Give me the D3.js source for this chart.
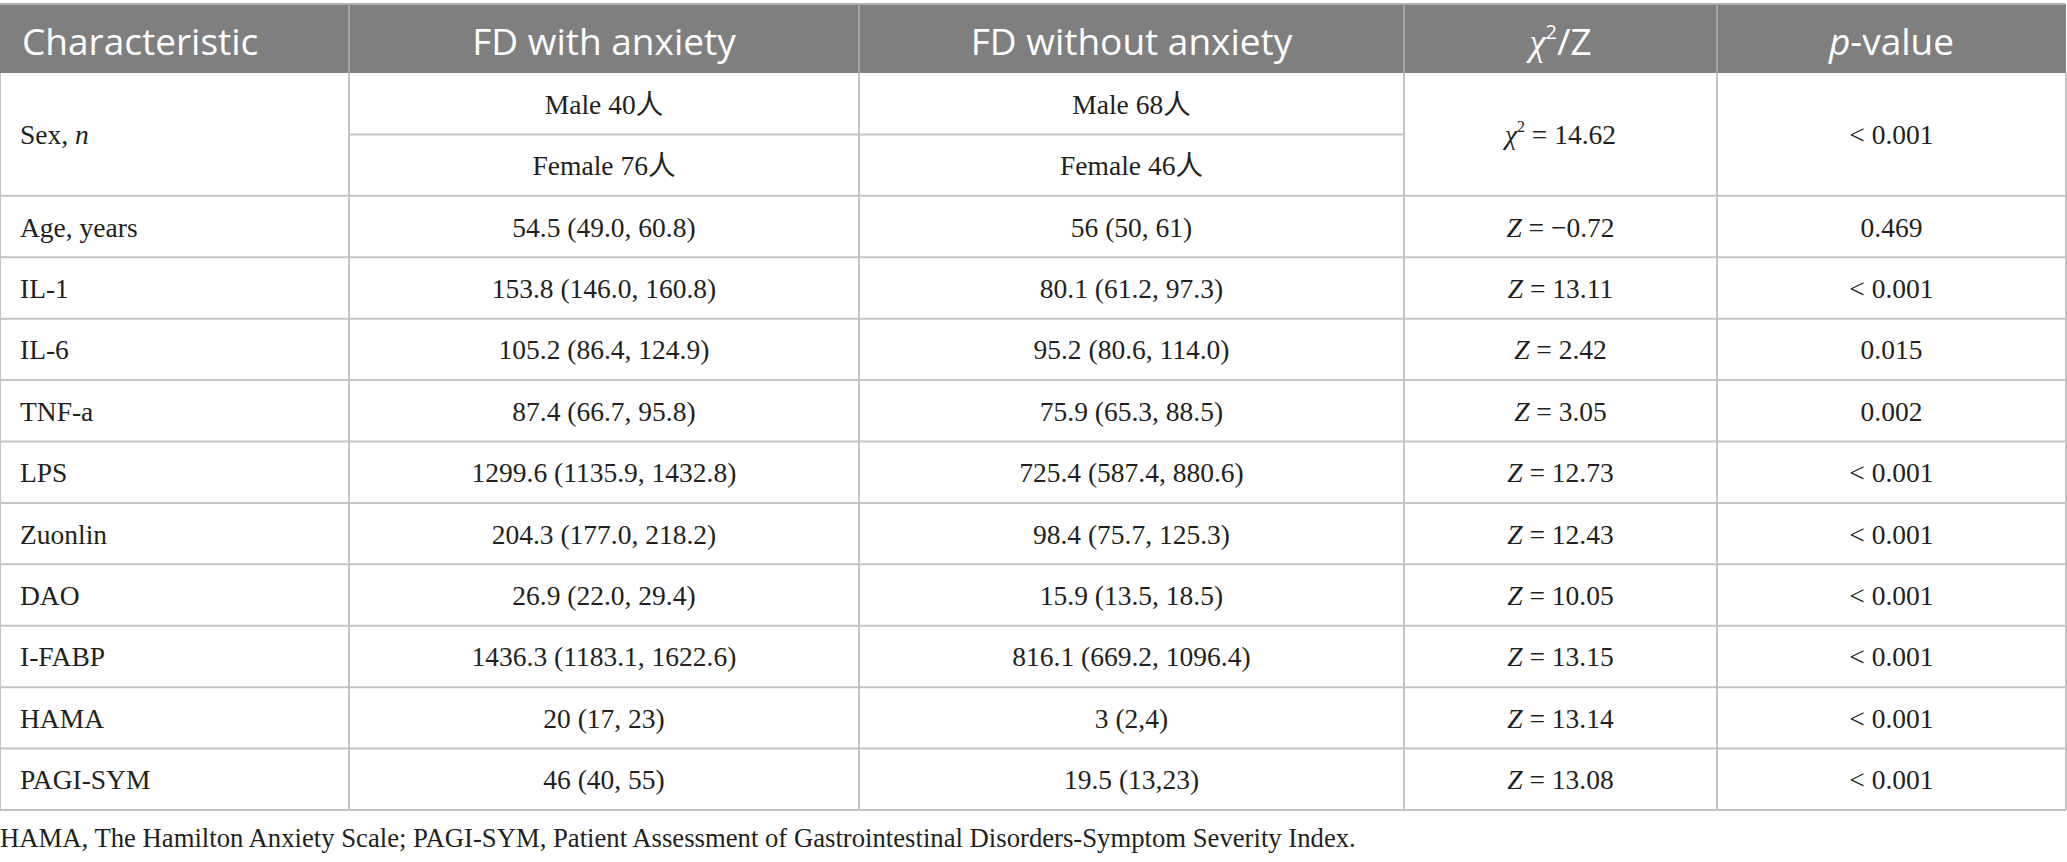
<!DOCTYPE html>
<html><head><meta charset="utf-8">
<script src="https://cdn.jsdelivr.net/npm/d3@7"></script>
<style>
html,body{margin:0;padding:0;background:#fff;}
svg{display:block;}
</style></head>
<body>
<script>
// ---- data ----
const headers = ["Characteristic", "FD with anxiety", "FD without anxiety", "χ2/Z", "p-value"];
const sexWith = ["Male 40人", "Female 76人"];
const sexWithout = ["Male 68人", "Female 46人"];
const sexStat = "14.62";
const sexP = "< 0.001";
const characteristics = ["Age, years", "IL-1", "IL-6", "TNF-a", "LPS", "Zuonlin", "DAO", "I-FABP", "HAMA", "PAGI-SYM"];
const withAnxiety = ["54.5 (49.0, 60.8)", "153.8 (146.0, 160.8)", "105.2 (86.4, 124.9)", "87.4 (66.7, 95.8)", "1299.6 (1135.9, 1432.8)", "204.3 (177.0, 218.2)", "26.9 (22.0, 29.4)", "1436.3 (1183.1, 1622.6)", "20 (17, 23)", "46 (40, 55)"];
const withoutAnxiety = ["56 (50, 61)", "80.1 (61.2, 97.3)", "95.2 (80.6, 114.0)", "75.9 (65.3, 88.5)", "725.4 (587.4, 880.6)", "98.4 (75.7, 125.3)", "15.9 (13.5, 18.5)", "816.1 (669.2, 1096.4)", "3 (2,4)", "19.5 (13,23)"];
const zValues = ["−0.72", "13.11", "2.42", "3.05", "12.73", "12.43", "10.05", "13.15", "13.14", "13.08"];
const pValues = ["0.469", "< 0.001", "0.015", "0.002", "< 0.001", "< 0.001", "< 0.001", "< 0.001", "< 0.001", "< 0.001"];
const footnote = "HAMA, The Hamilton Anxiety Scale; PAGI-SYM, Patient Assessment of Gastrointestinal Disorders-Symptom Severity Index.";

// ---- layout ----
const W = 2067, H = 862;
const colEdges = [0, 349, 859, 1404, 1717, 2066];
const headTop = 4, headBot = 73, tableBot = 810;
const serif = "'Liberation Serif','Noto Sans CJK SC',serif";
const sans = "'Open Sans','Noto Sans',sans-serif";
const fs = 27.5;
const lineCol = "#c4c4c4";

const svg = d3.select("body").append("svg").attr("width", W).attr("height", H);

const rowKeys = ["Male", "Female"].concat(characteristics);
const y = d3.scaleBand().domain(rowKeys).range([headBot, tableBot]);
const xC = i => (colEdges[i] + colEdges[i + 1]) / 2;

// header
svg.append("rect").attr("x", 0).attr("y", headTop).attr("width", colEdges[5]).attr("height", headBot - headTop).attr("fill", "#7f7f7f");
svg.append("line").attr("x1", 0).attr("x2", colEdges[5]).attr("y1", headTop).attr("y2", headTop).attr("stroke", "#b0b0b0").attr("stroke-width", 2);
svg.selectAll("line.hv").data([1, 2, 3, 4]).enter().append("line")
  .attr("x1", d => colEdges[d]).attr("x2", d => colEdges[d]).attr("y1", headTop).attr("y2", headBot)
  .attr("stroke", "#a6a6a6").attr("stroke-width", 2);

const hb = 55;
const hText = (i) => svg.append("text").attr("y", hb).attr("fill", "#fff").attr("font-family", sans).attr("font-size", 37);
hText(0).attr("x", 22).text(headers[0]);
hText(1).attr("x", xC(1)).attr("text-anchor", "middle").text(headers[1]);
hText(2).attr("x", xC(2)).attr("text-anchor", "middle").text(headers[2]);
{
  const t = hText(3).attr("x", xC(3)).attr("text-anchor", "middle");
  t.append("tspan").attr("font-family", serif).attr("font-style", "italic").text("χ");
  t.append("tspan").attr("font-size", 20).attr("dy", -16).text("2");
  t.append("tspan").attr("dy", 16).text("/Z");
}
{
  const t = hText(4).attr("x", xC(4)).attr("text-anchor", "middle");
  t.append("tspan").attr("font-style", "italic").text("p");
  t.append("tspan").text("-value");
}

// grid lines (body)
const g = svg.append("g").attr("stroke", lineCol).attr("stroke-width", 2);
const hLines = [];
rowKeys.forEach((k, i) => { if (i > 0) hLines.push({ y: y(k), x1: (k === "Female") ? colEdges[1] : 0, x2: (k === "Female") ? colEdges[3] : colEdges[5] }); });
hLines.push({ y: tableBot, x1: 0, x2: colEdges[5] });
g.selectAll("line.h").data(hLines).enter().append("line")
  .attr("x1", d => d.x1).attr("x2", d => d.x2).attr("y1", d => d.y).attr("y2", d => d.y);
g.selectAll("line.v").data(colEdges).enter().append("line")
  .attr("x1", d => d).attr("x2", d => d).attr("y1", headBot).attr("y2", tableBot);

const base = (top, h) => top + h / 2 + 10;
const body = svg.append("g").attr("font-family", serif).attr("font-size", fs).attr("fill", "#231f20");

// Sex row
const sexMid = base(y("Male"), y.bandwidth() * 2);
{
  const t = body.append("text").attr("x", 20).attr("y", sexMid);
  t.append("tspan").text("Sex, ");
  t.append("tspan").attr("font-style", "italic").text("n");
}
["Male", "Female"].forEach((k, i) => {
  body.append("text").attr("x", xC(1)).attr("y", base(y(k), y.bandwidth())).attr("text-anchor", "middle").text(sexWith[i]);
  body.append("text").attr("x", xC(2)).attr("y", base(y(k), y.bandwidth())).attr("text-anchor", "middle").text(sexWithout[i]);
});
{
  const t = body.append("text").attr("x", xC(3)).attr("y", sexMid).attr("text-anchor", "middle");
  t.append("tspan").attr("font-style", "italic").text("χ");
  t.append("tspan").attr("font-size", 16).attr("dy", -12).text("2");
  t.append("tspan").attr("dy", 12).text(" = " + sexStat);
}
body.append("text").attr("x", xC(4)).attr("y", sexMid).attr("text-anchor", "middle").text(sexP);

// other rows
characteristics.forEach((c, i) => {
  const yy = base(y(c), y.bandwidth());
  body.append("text").attr("x", 20).attr("y", yy).text(c);
  body.append("text").attr("x", xC(1)).attr("y", yy).attr("text-anchor", "middle").text(withAnxiety[i]);
  body.append("text").attr("x", xC(2)).attr("y", yy).attr("text-anchor", "middle").text(withoutAnxiety[i]);
  const t = body.append("text").attr("x", xC(3)).attr("y", yy).attr("text-anchor", "middle");
  t.append("tspan").attr("font-style", "italic").text("Z");
  t.append("tspan").text(" = " + zValues[i]);
  body.append("text").attr("x", xC(4)).attr("y", yy).attr("text-anchor", "middle").text(pValues[i]);
});

// footnote
svg.append("text").attr("x", 0).attr("y", 847).attr("font-family", serif).attr("font-size", 26.7).attr("fill", "#231f20").text(footnote);
</script>
</body></html>
